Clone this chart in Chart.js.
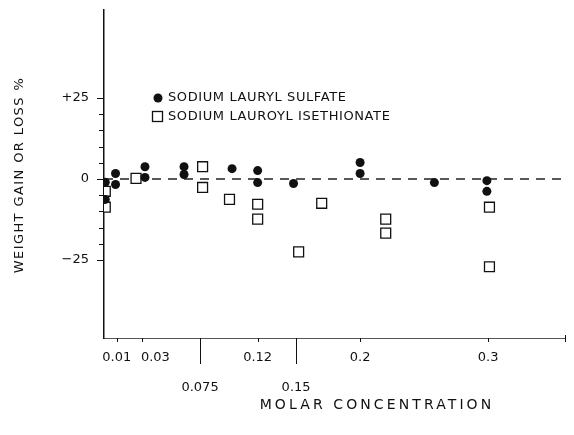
<!DOCTYPE html>
<html>
<head>
<meta charset="utf-8">
<title>Weight gain or loss vs molar concentration</title>
<script src="https://cdn.jsdelivr.net/npm/chart.js@4/dist/chart.umd.min.js"></script>
<style>
  html, body { margin: 0; padding: 0; background: #fff; }
  #wrap { width: 574px; height: 435px; }
</style>
</head>
<body>
<div id="wrap"><canvas id="chart" width="574" height="435"></canvas></div>
<script>
// ---- Data ----
const slsX = [0.001, 0.001, 0.009, 0.009, 0.032, 0.032, 0.0625, 0.0625, 0.1, 0.12, 0.12, 0.148, 0.2, 0.2, 0.258, 0.299, 0.299];
const slsY = [-1, -6.3, 1.7, -1.7, 3.8, 0.5, 3.8, 1.4, 3.2, 2.6, -1.1, -1.4, 5.1, 1.7, -1.1, -0.5, -3.8];

const sliX = [0.001, 0.001, 0.025, 0.077, 0.077, 0.098, 0.12, 0.12, 0.152, 0.17, 0.22, 0.22, 0.301, 0.301];
const sliY = [-3.8, -8.7, 0.2, 3.8, -2.6, -6.3, -7.8, -12.4, -22.5, -7.5, -12.4, -16.7, -8.7, -27.1];

const xTicks = [0.01, 0.03, 0.075, 0.12, 0.15, 0.2, 0.3];
const xLowTicks = [0.075, 0.15];          // labels on second row, long tick marks
const xEndTick = 0.36;
const yTicks = [-25, 0, 25];
const yMinorTicks = [-20, -15, -10, -5, 5, 10, 15, 20];
const legendNames = ['SODIUM LAURYL SULFATE', 'SODIUM LAUROYL ISETHIONATE'];
const xTitle = 'MOLAR CONCENTRATION';
const yTitle = 'WEIGHT GAIN OR LOSS %';

const INK = '#111';
const FONT = '"DejaVu Sans", sans-serif';

function toPoints(xs, ys) {
  return xs.map((x, i) => ({ x: x, y: ys[i] }));
}

function xLabel(v) {
  if (xLowTicks.includes(v)) return ['', String(v)];
  // the 0.03 label sits a little right of its tick in the original
  if (v === 0.03) return '\u2003\u2003' + v;
  return String(v);
}

// tick marks drawn off the chart's own scales
const tickMarks = {
  id: 'tickMarks',
  afterDraw(chart) {
    const { ctx, scales: { x, y } } = chart;
    ctx.save();
    ctx.strokeStyle = INK;
    ctx.lineWidth = 1;

    // y axis ticks (left side)
    const yAxisX = x.getPixelForValue(0);
    yTicks.concat(yMinorTicks).forEach(v => {
      const py = Math.round(y.getPixelForValue(v)) + 0.5;
      const len = yTicks.includes(v) ? 7 : 5;
      ctx.beginPath();
      ctx.moveTo(yAxisX - len, py);
      ctx.lineTo(yAxisX, py);
      ctx.stroke();
    });

    // x axis ticks
    const base = y.getPixelForValue(y.min);
    xTicks.concat([xEndTick]).forEach(v => {
      const px = Math.round(x.getPixelForValue(v)) + 0.5;
      const len = xLowTicks.includes(v) ? 26 : 4;
      ctx.beginPath();
      ctx.moveTo(px, base - (v === xEndTick ? 3 : 0));
      ctx.lineTo(px, base + len);
      ctx.stroke();
    });
    ctx.restore();
  }
};

// legend inside the plot + spaced-out axis titles
const annotations = {
  id: 'annotations',
  afterDraw(chart) {
    const ctx = chart.ctx;
    ctx.save();
    ctx.fillStyle = INK;
    ctx.strokeStyle = INK;
    ctx.textBaseline = 'middle';

    ctx.font = '13px ' + FONT;
    ctx.letterSpacing = '0.6px';
    ctx.beginPath();
    ctx.arc(158, 98, 4.5, 0, Math.PI * 2);
    ctx.fill();
    ctx.fillText(legendNames[0], 168, 98);
    ctx.lineWidth = 1.3;
    ctx.strokeRect(152.5, 111.5, 10, 10);
    ctx.fillText(legendNames[1], 168, 117);

    ctx.textAlign = 'center';
    ctx.font = '14px ' + FONT;
    ctx.letterSpacing = '3.1px';
    ctx.fillText(xTitle, 377, 405);

    ctx.font = '13px ' + FONT;
    ctx.letterSpacing = '1.4px';
    ctx.translate(20, 175);
    ctx.rotate(-Math.PI / 2);
    ctx.fillText(yTitle, 0, 0);
    ctx.restore();
  }
};

new Chart(document.getElementById('chart'), {
  data: {
    datasets: [
      {
        type: 'line',
        label: 'zero',
        data: [{ x: 0, y: 0 }, { x: xEndTick, y: 0 }],
        borderColor: '#222',
        borderWidth: 1.4,
        borderDash: [9, 7],
        pointRadius: 0,
        order: 3
      },
      {
        type: 'scatter',
        label: legendNames[1],
        data: toPoints(sliX, sliY),
        pointStyle: 'rect',
        pointRadius: 7,
        backgroundColor: '#fff',
        borderColor: INK,
        borderWidth: 1.3,
        order: 1
      },
      {
        type: 'scatter',
        label: legendNames[0],
        data: toPoints(slsX, slsY),
        pointStyle: 'circle',
        pointRadius: 4.5,
        backgroundColor: INK,
        borderColor: INK,
        borderWidth: 0,
        order: 0
      }
    ]
  },
  options: {
    responsive: false,
    animation: false,
    layout: { padding: { top: 10, right: 9, left: 0, bottom: 0 } },
    plugins: {
      legend: { display: false },
      tooltip: { enabled: false }
    },
    scales: {
      x: {
        type: 'linear',
        min: 0,
        max: xEndTick,
        afterBuildTicks: scale => { scale.ticks = xTicks.map(v => ({ value: v })); },
        afterFit: scale => {
          scale.height = 97;
          scale.paddingLeft = 0;
          scale.paddingRight = 0;
        },
        grid: { display: false, drawTicks: false },
        border: { display: true, color: '#555', width: 1 },
        ticks: {
          autoSkip: false,
          maxRotation: 0,
          padding: 5,
          color: INK,
          font: { family: FONT, size: 13, lineHeight: 2.3 },
          callback: xLabel
        }
      },
      y: {
        type: 'linear',
        min: -49.1,
        max: 52.2,
        afterBuildTicks: scale => { scale.ticks = yTicks.map(v => ({ value: v })); },
        afterFit: scale => {
          scale.width = 104;
          scale.paddingTop = 0;
          scale.paddingBottom = 0;
        },
        grid: { display: false, drawTicks: false },
        border: { display: true, color: INK, width: 1.5 },
        ticks: {
          padding: 15,
          color: INK,
          font: { family: FONT, size: 13 },
          callback: v => v > 0 ? '+' + v : (v < 0 ? '\u2212' + Math.abs(v) : '0')
        }
      }
    }
  },
  plugins: [tickMarks, annotations]
});
</script>
</body>
</html>
